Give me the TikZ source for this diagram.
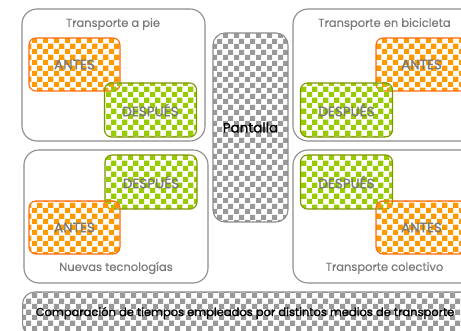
\documentclass[tikz,border=0pt]{standalone}
\usepackage{fontspec}
\setmainfont{Poppins}
\newfontfamily\heavyfont{Poppins}[FakeBold=1.2]
\newfontfamily\midfont{Poppins}[FakeBold=0.5]
\usetikzlibrary{patterns}
\pgfdeclarepatternformonly{bigchecker}{\pgfpointorigin}{\pgfqpoint{10.6pt}{10.6pt}}{\pgfqpoint{10.6pt}{10.6pt}}{%
  \pgfpathrectangle{\pgfpointorigin}{\pgfqpoint{5.3pt}{5.3pt}}%
  \pgfpathrectangle{\pgfqpoint{5.3pt}{5.3pt}}{\pgfqpoint{5.3pt}{5.3pt}}%
  \pgfusepath{fill}}
\definecolor{groupgray}{HTML}{8C8C8C}
\definecolor{labelgray}{HTML}{7A7A7A}
\definecolor{chkorange}{HTML}{FF9900}
\definecolor{antesline}{HTML}{FF6A10}
\definecolor{chkgreen}{HTML}{99CC00}
\definecolor{despline}{HTML}{7F9400}
\definecolor{chkgray}{HTML}{999999}
\tikzset{
  group/.style={draw=groupgray, line width=1.1pt, rounded corners=15pt, inner sep=0pt},
  grouptitle/.style={text=labelgray, font=\midfont\fontsize{11.5}{11.5}\selectfont, inner sep=0pt},
  antesbox/.style={draw=antesline, line width=1.1pt, rounded corners=7pt, inner sep=0pt,
    pattern=bigchecker, pattern color=chkorange, text=labelgray,
    font=\heavyfont\fontsize{13.5}{13.5}\selectfont, minimum width=91pt, minimum height=53pt},
  despbox/.style={draw=despline, line width=1.1pt, rounded corners=7pt, inner sep=0pt,
    pattern=bigchecker, pattern color=chkgreen, text=labelgray,
    font=\heavyfont\fontsize{13.5}{13.5}\selectfont, minimum width=92pt, minimum height=54pt},
  graybox/.style={draw=groupgray, line width=1.1pt, rounded corners=12pt, inner sep=0pt,
    pattern=bigchecker, pattern color=chkgray, text=black},
}
\begin{document}
\begin{tikzpicture}[x=1pt, y=-1pt]
\useasboundingbox (0,0) rectangle (461,331);
\clip (0,0) rectangle (461,331);
% groups
\node[group, minimum width=183pt, minimum height=132pt] (gtl) at (113.5,75) {};
\node[group, minimum width=183pt, minimum height=132pt] (gtr) at (384.5,75) {};
\node[group, minimum width=184pt, minimum height=133pt] (gbl) at (116,216.5) {};
\node[group, minimum width=183pt, minimum height=133pt] (gbr) at (384.5,216.5) {};
% titles
\node[grouptitle] (ttl) at (113,24) {Transporte a pie};
\node[grouptitle] (ttr) at (384.5,24) {Transporte en bicicleta};
\node[grouptitle] (tbl) at (116,268) {Nuevas tecnologías};
\node[grouptitle] (tbr) at (384.5,268) {Transporte colectivo};
% top-left
\node[antesbox] (a1) at (74.5,64.5) {ANTES};
\node[despbox] (d1) at (150.5,110) {DESPUÉS};
% top-right
\node[antesbox] (a2) at (421.5,64.5) {ANTES};
\node[despbox] (d2) at (346.5,110) {DESPUÉS};
% bottom-left
\node[despbox] (d3) at (151,182) {DESPUÉS};
\node[antesbox] (a3) at (74.5,227.5) {ANTES};
% bottom-right
\node[despbox] (d4) at (346.5,182) {DESPUÉS};
\node[antesbox] (a4) at (421.5,227.5) {ANTES};
% pantalla
\node[graybox, minimum width=75pt, minimum height=189pt, font=\heavyfont\fontsize{13.5}{13.5}\selectfont] (pant) at (250.5,127.5) {Pantalla};
% banner
\node[graybox, minimum width=454pt, minimum height=44pt, anchor=north west] (ban) at (22,291.5) {};
\node[inner sep=0pt, font=\heavyfont\fontsize{11.5}{11.5}\selectfont] (bantext) at (245,313) {Comparación de tiempos empleados por distintos medios de transporte};
\end{tikzpicture}
\end{document}
